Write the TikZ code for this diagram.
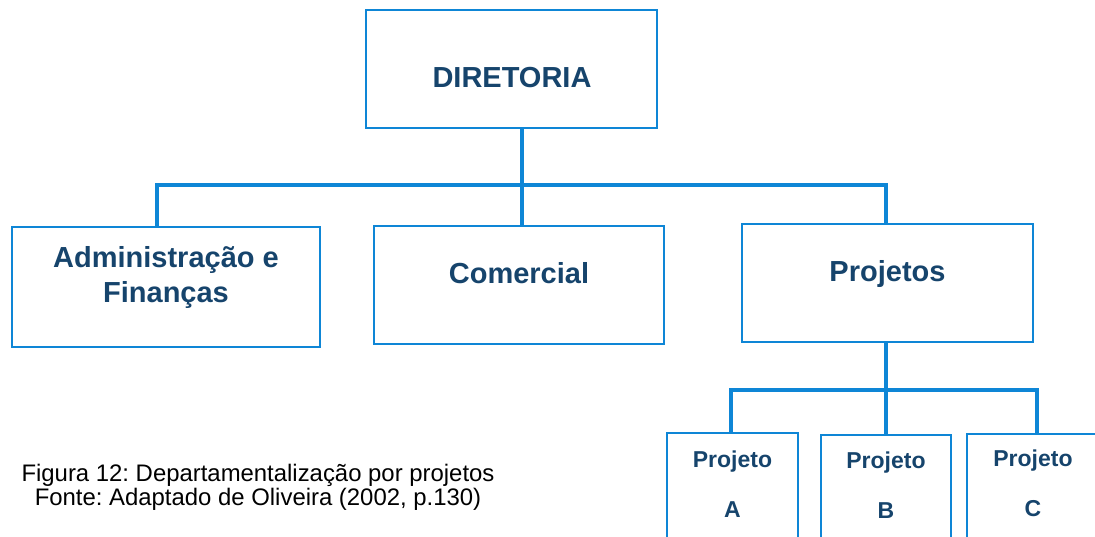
\documentclass[tikz,border=0pt]{standalone}
\usepackage{fontspec}
\setmainfont{Liberation Sans}
\frenchspacing
\definecolor{linha}{RGB}{14,134,214}
\definecolor{texto}{RGB}{22,68,108}
\tikzset{
  caixa/.style={draw=linha, line width=1.8pt, rectangle, inner sep=0pt},
  rotulo/.style={text=texto, inner sep=0pt, align=center, font=\bfseries\fontsize{29}{35}\selectfont},
  rotulop/.style={text=texto, inner sep=0pt, align=center, font=\bfseries\fontsize{23}{50}\selectfont},
  ligacao/.style={linha, line width=4pt},
}
\begin{document}
\begin{tikzpicture}[x=1pt,y=-1pt]
			\useasboundingbox (0,0) rectangle (1095,537);
			% caixas principais
			\node[caixa, minimum width=291pt, minimum height=118pt] (dir) at (511.5,69) {};
			\node[caixa, minimum width=308pt, minimum height=120pt] (adm) at (166,287) {};
			\node[caixa, minimum width=290pt, minimum height=118pt] (com) at (519,285) {};
			\node[caixa, minimum width=291pt, minimum height=118pt] (proj) at (887.5,283) {};
			\node[rotulo, anchor=base] (dirt) at (512,88) {DIRETORIA};
			\node[rotulo] (admt) at (166,278) {Administração e\\Finanças};
			\node[rotulo, anchor=base] (comt) at (519,284) {Comercial};
			\node[rotulo, anchor=base] (projt) at (887.5,282) {Projetos};
			% projetos
			\node[caixa, anchor=north, minimum width=131pt, minimum height=140pt] (pa) at (732.5,432) {};
			\node[caixa, anchor=north, minimum width=130pt, minimum height=140pt] (pb) at (886,434) {};
			\node[caixa, anchor=north, minimum width=132pt, minimum height=140pt] (pc) at (1033,433) {};
			\node[rotulop] (pat) at (732.5,483.7) {Projeto\\A};
			\node[rotulop] (pbt) at (886,484.7) {Projeto\\B};
			\node[rotulop] (pct) at (1033,483) {Projeto\\C};
			% ligacoes
			\coordinate (eixo) at (522,185);
			\coordinate (esq) at (157,185);
			\coordinate (dirx) at (886,185);
			\draw[ligacao] (dir.south -| eixo) -- (eixo) -- (com.north -| eixo);
			\draw[ligacao] (adm.north -| esq) |- (dirx) -- (proj.north -| dirx);
			\coordinate (eixob) at (886,390);
			\coordinate (pesq) at (731,390);
			\coordinate (pdir) at (1037,390);
			\draw[ligacao] (proj.south -| eixob) -- (eixob) -- (pb.north -| eixob);
			\draw[ligacao] (pa.north -| pesq) |- (pdir) -- (pc.north -| pdir);
			% legenda
			\node[align=center, inner sep=0pt, font=\fontsize{23.9}{24.3}\selectfont] (leg) at (258,487)
				{Figura 12: Departamentalização por projetos\\Fonte: Adaptado de Oliveira (2002, p.130)};
		\end{tikzpicture}
\end{document}
